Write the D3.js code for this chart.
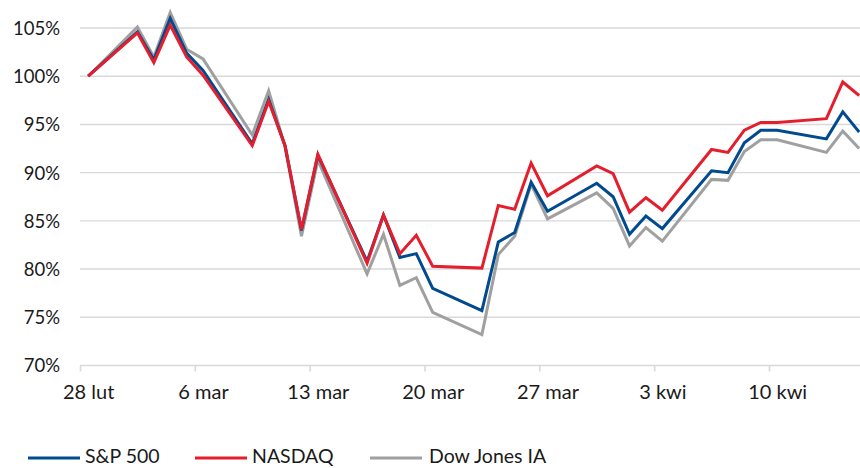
<!DOCTYPE html>
<html>
<head>
<meta charset="utf-8">
<script src="https://cdn.jsdelivr.net/npm/d3@7"></script>
<style>
  html, body { margin: 0; padding: 0; background: #fff; }
  svg { display: block; font-family: Lato, "Open Sans", sans-serif; }
</style>
</head>
<body>
<svg id="chart" width="860" height="468"></svg>
<script>
// ---- data (index, Feb 28 2020 = 100%) ----
const dates = [
  "2020-02-28","2020-03-02","2020-03-03","2020-03-04","2020-03-05","2020-03-06",
  "2020-03-09","2020-03-10","2020-03-11","2020-03-12","2020-03-13",
  "2020-03-16","2020-03-17","2020-03-18","2020-03-19","2020-03-20",
  "2020-03-23","2020-03-24","2020-03-25","2020-03-26","2020-03-27",
  "2020-03-30","2020-03-31","2020-04-01","2020-04-02","2020-04-03",
  "2020-04-06","2020-04-07","2020-04-08","2020-04-09","2020-04-10",
  "2020-04-13","2020-04-14","2020-04-15"
];
const sp500 = [100.0,104.6,101.7,106.0,102.4,100.6,93.0,97.6,92.8,84.0,91.8,
  80.8,85.6,81.2,81.6,78.0,75.7,82.8,83.8,89.0,86.0,
  88.9,87.5,83.6,85.5,84.2,90.2,90.0,93.1,94.4,94.4,93.5,96.3,94.2];
const nasdaq = [100.0,104.5,101.4,105.3,102.0,100.1,92.8,97.4,92.8,84.1,91.9,
  80.6,85.6,81.6,83.5,80.3,80.1,86.6,86.2,91.0,87.6,
  90.7,89.9,85.9,87.4,86.1,92.4,92.1,94.4,95.2,95.2,95.6,99.4,98.0];
const dowjones = [100.0,105.1,102.0,106.6,102.8,101.8,93.9,98.5,92.7,83.4,91.3,
  79.5,83.6,78.3,79.1,75.5,73.2,81.5,83.4,88.8,85.2,
  87.9,86.3,82.4,84.3,82.9,89.3,89.2,92.2,93.4,93.4,92.1,94.3,92.5];
const seriesNames = ["S&P 500", "NASDAQ", "Dow Jones IA"];
const yTicks = [70, 75, 80, 85, 90, 95, 100, 105];
const xTickDates = ["2020-02-28","2020-03-06","2020-03-13","2020-03-20","2020-03-27","2020-04-03","2020-04-10"];
const xTickLabels = ["28 lut","6 mar","13 mar","20 mar","27 mar","3 kwi","10 kwi"];

// ---- setup ----
const parse = d3.utcParse("%Y-%m-%d");
const colors = { "S&P 500": "#004a8f", "NASDAQ": "#e41e2d", "Dow Jones IA": "#a0a0a0" };
const svg = d3.select("#chart");

const x0 = parse("2020-02-28");
const x1 = parse("2020-04-16");
const x = d3.scaleUtc().domain([x0, x1]).range([80, 80 + 48 * 16.404]);
const y = d3.scaleLinear().domain([70, 105]).range([365.5, 28]);
const mid = d => d3.utcHour.offset(parse(d), 12);

// gridlines
svg.append("g").selectAll("line").data(yTicks.filter(v => v !== 70)).join("line")
  .attr("x1", 80).attr("x2", 860)
  .attr("y1", d => y(d)).attr("y2", d => y(d))
  .attr("stroke", "#d9d9d9").attr("stroke-width", 1.4);

// y axis labels
const yAxis = d3.axisLeft(y).tickValues(yTicks).tickSize(0).tickPadding(0)
  .tickFormat(d => d + "%");
const gy = svg.append("g").attr("transform", "translate(60,0)").call(yAxis);
gy.select(".domain").remove();
gy.selectAll("text").attr("font-size", 18.5).attr("fill", "#1a1a1a")
  .attr("font-family", "Lato, 'Open Sans', sans-serif").attr("dy", "0.35em");

// x axis
const xAxis = d3.axisBottom(x).tickValues(xTickDates.map(parse)).tickSize(6)
  .tickFormat((d, i) => xTickLabels[i]);
const gx = svg.append("g").attr("transform", `translate(0,${y(70)})`).call(xAxis);
gx.select(".domain").attr("d", "M80,0H860").attr("stroke", "#d9d9d9").attr("stroke-width", 1.6);
gx.selectAll(".tick line").attr("stroke", "#d9d9d9").attr("stroke-width", 1.6);
gx.selectAll(".tick text").attr("font-size", 20).attr("fill", "#1a1a1a")
  .attr("font-family", "Lato, 'Open Sans', sans-serif")
  .attr("x", 8.2).attr("y", 33.5).attr("dy", 0);

// lines
const seriesData = [
  { name: "Dow Jones IA", values: dowjones },
  { name: "S&P 500", values: sp500 },
  { name: "NASDAQ", values: nasdaq }
];
const line = d3.line().x((d, i) => x(mid(dates[i]))).y(d => y(d));
svg.append("g").selectAll("path").data(seriesData).join("path")
  .attr("d", d => line(d.values))
  .attr("fill", "none")
  .attr("stroke", d => colors[d.name])
  .attr("stroke-width", 3)
  .attr("stroke-linejoin", "miter");

// legend
const legendX = [28, 195, 370];
const lg = svg.append("g").selectAll("g").data(seriesNames).join("g")
  .attr("transform", (d, i) => `translate(${legendX[i]},458)`);
lg.append("line").attr("x1", 0).attr("x2", 52).attr("y1", 0).attr("y2", 0)
  .attr("stroke", d => colors[d]).attr("stroke-width", 3);
lg.append("text").attr("x", (d, i) => i === 2 ? 59 : 57).attr("y", 5)
  .attr("font-size", 19.5).attr("fill", "#1a1a1a")
  .text(d => d);
</script>
</body>
</html>
